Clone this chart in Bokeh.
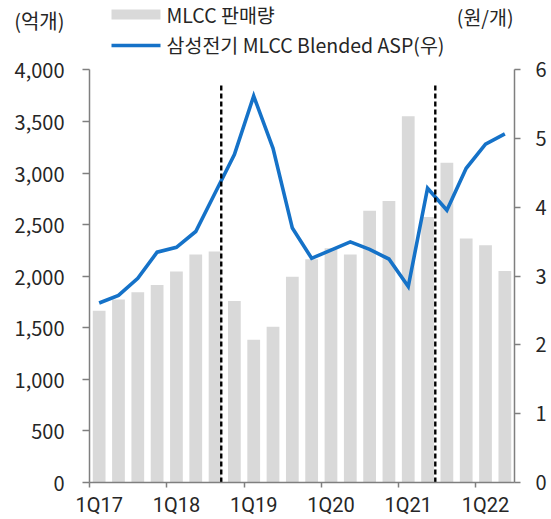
from bokeh.plotting import figure
from bokeh.models import (Range1d, LinearAxis, FixedTicker, NumeralTickFormatter,
                          Label, BoxAnnotation, ColumnDataSource, CustomLabelingPolicy)
from bokeh.embed import file_html
from bokeh.resources import INLINE

quarters = ["1Q17", "2Q17", "3Q17", "4Q17", "1Q18", "2Q18", "3Q18", "4Q18",
            "1Q19", "2Q19", "3Q19", "4Q19", "1Q20", "2Q20", "3Q20", "4Q20",
            "1Q21", "2Q21", "3Q21", "4Q21", "1Q22", "2Q22"]
mlcc_volume = [1665, 1775, 1845, 1915, 2045, 2210, 2240, 1760, 1385, 1510, 1995,
               2165, 2270, 2210, 2635, 2730, 3550, 2575, 3100, 2365, 2300, 2050]
asp = [2.61, 2.72, 2.97, 3.35, 3.42, 3.65, 4.21, 4.77, 5.62, 4.86, 3.70,
       3.26, 3.38, 3.50, 3.39, 3.25, 2.85, 4.28, 3.96, 4.57, 4.92, 5.07]
tick_labels = ["1Q17", "1Q18", "1Q19", "1Q20", "1Q21", "1Q22"]
left_ticks = [0, 500, 1000, 1500, 2000, 2500, 3000, 3500, 4000]
right_ticks = [0, 1, 2, 3, 4, 5, 6]
divider_pos = [6.82, 17.9]     # in quarter units (between 3Q18/4Q18 and 2Q21/3Q21)
divider_top = 3870

FONT = "Noto Sans CJK KR"
NUMFONT = "Roboto"
TXT = "#262626"
AXC = "#7f7f7f"
BAR = "#d9d9d9"
BLUE = "#1572c8"

# pixel layout of the frame (frame spans from the top of the canvas)
W, H = 551, 519
F_LEFT, F_RIGHT, F_BOTTOM, AX_TOP = 89, 514, 486, 70
px_per_unit_l = (F_BOTTOM - AX_TOP) / left_ticks[-1]
px_per_unit_r = (F_BOTTOM - AX_TOP) / right_ticks[-1]
y_end_l = F_BOTTOM / px_per_unit_l
y_end_r = F_BOTTOM / px_per_unit_r
title_val = round((F_BOTTOM - 20) / px_per_unit_l)

xs = [i + 0.5 for i in range(len(quarters))]
src = ColumnDataSource(dict(x=xs, vol=mlcc_volume, asp=asp))

p = figure(width=W, height=H, output_backend="svg", toolbar_location=None,
           x_range=Range1d(0, len(quarters)), y_range=Range1d(0, y_end_l),
           min_border_left=F_LEFT, min_border_right=W - F_RIGHT, min_border_top=0,
           min_border_bottom=H - F_BOTTOM)
p.extra_y_ranges = {"asp": Range1d(0, y_end_r)}
p.outline_line_color = None
p.grid.visible = False
p.background_fill_color = "white"

p.vbar(x="x", top="vol", width=0.66, source=src, fill_color=BAR, line_color=None)
p.line(x="x", y="asp", source=src, y_range_name="asp", line_color=BLUE,
       line_width=3.6, line_join="miter")

p.segment(x0=divider_pos, x1=divider_pos, y0=[0] * len(divider_pos),
          y1=[divider_top] * len(divider_pos),
          line_color="black", line_width=2.4, line_dash="5 3")

# ---- x axis
xa = p.xaxis[0]
label_pos = [quarters.index(t) + 0.5 for t in tick_labels]
xa.ticker = FixedTicker(ticks=label_pos,
                        minor_ticks=[quarters.index(t) for t in tick_labels])
xa.major_label_overrides = {pos: t for pos, t in zip(label_pos, tick_labels)}
xa.major_tick_line_color = None
xa.major_tick_out = 0
xa.major_tick_in = 0
xa.minor_tick_out = 5
xa.minor_tick_in = 0
xa.minor_tick_line_color = AXC
xa.minor_tick_line_width = 1.5
xa.axis_line_color = AXC
xa.axis_line_width = 1.5
xa.major_label_text_font = NUMFONT
xa.major_label_text_font_size = "20px"
xa.major_label_text_color = TXT
xa.major_label_standoff = 5

# ---- left axis: line + ticks (inner, no labels), labels (outer)
ya = p.yaxis[0]
ya.bounds = (0, left_ticks[-1])
ya.ticker = FixedTicker(ticks=left_ticks)
ya.minor_tick_line_color = None
ya.major_tick_out = 7
ya.major_tick_in = 0
ya.axis_line_color = AXC
ya.axis_line_width = 1.5
ya.major_tick_line_color = AXC
ya.major_tick_line_width = 1.5
ya.major_label_policy = CustomLabelingPolicy(
    code="for (const i of Array.from(indices)) indices.unset(i)")
ya.major_label_text_font_size = "0px"
ya.major_label_standoff = 0

yl = LinearAxis(ticker=FixedTicker(ticks=left_ticks + [title_val]),
                formatter=NumeralTickFormatter(format="0,0"))
yl.major_label_overrides = {title_val: "(억개)"}
yl.axis_line_color = None
yl.major_tick_line_color = None
yl.minor_tick_line_color = None
yl.major_tick_out = 0
yl.major_tick_in = 0
yl.major_label_standoff = 18
yl.major_label_text_font = FONT
yl.major_label_text_font_size = "20px"
yl.major_label_text_color = TXT
p.add_layout(yl, "left")

# ---- right axis
ra = LinearAxis(y_range_name="asp", ticker=FixedTicker(ticks=right_ticks),
                bounds=(0, right_ticks[-1]))
ra.minor_tick_line_color = None
ra.major_tick_out = 6
ra.major_tick_in = 0
ra.axis_line_color = AXC
ra.axis_line_width = 1.5
ra.major_tick_line_color = AXC
ra.major_tick_line_width = 1.5
ra.major_label_text_font = FONT
ra.major_label_text_font_size = "20px"
ra.major_label_text_color = TXT
ra.major_label_standoff = 15
p.add_layout(ra, "right")

# ---- header: legend and right unit, inside the (tall) frame
XW = (F_RIGHT - F_LEFT) / len(quarters)


def dx(px):
    return (px - F_LEFT) / XW


def lab(text, px, py, align="left"):
    p.add_layout(Label(x=dx(px), y=F_BOTTOM - py, y_units="screen", text=text,
                       text_font=FONT, text_font_size="19.5px", text_color=TXT,
                       text_baseline="middle", text_align=align))


lab("(원/개)", F_RIGHT - 1, 20, align="right")
lab("MLCC 판매량", 166, 17.5)
lab("삼성전기 MLCC Blended ASP(우)", 166, 47.5)

p.add_layout(BoxAnnotation(left=dx(111), right=dx(160),
                           top=F_BOTTOM - 13, bottom=F_BOTTOM - 23,
                           top_units="screen", bottom_units="screen",
                           fill_color=BAR, fill_alpha=1, line_color=None))
p.add_layout(BoxAnnotation(left=dx(111), right=dx(160),
                           top=F_BOTTOM - 47.2, bottom=F_BOTTOM - 50.8,
                           top_units="screen", bottom_units="screen",
                           fill_color=BLUE, fill_alpha=1, line_color=None))

open("out.html", "w").write(file_html(p, INLINE))
